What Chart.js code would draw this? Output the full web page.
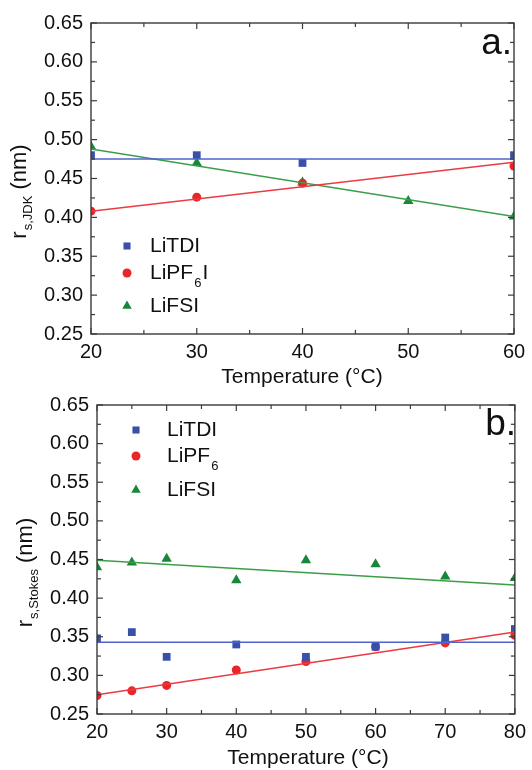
<!DOCTYPE html>
<html><head><meta charset="utf-8">
<script src="https://cdn.jsdelivr.net/npm/chart.js@4.4.0/dist/chart.umd.min.js"></script>
<style>
html,body{margin:0;padding:0;background:#fff;}
#wrap{position:relative;width:532px;height:770px;overflow:hidden;}
.c{position:absolute;left:0;width:532px;}
</style></head><body>
<div id="wrap">
<div class="c" style="top:0;height:400px"><canvas id="ca"></canvas></div>
<div class="c" style="top:385px;height:385px"><canvas id="cb"></canvas></div>
</div>
<script>
// ---------- Panel a data (r_s,JDK) ----------
const tempA_TDI = [20, 30, 40, 60];
const valA_TDI  = [0.480, 0.480, 0.470, 0.480];
const tempA_PF6 = [20, 30, 40, 60];
const valA_PF6  = [0.408, 0.426, 0.444, 0.466];
const tempA_FSI = [20, 30, 40, 50, 60];
const valA_FSI  = [0.491, 0.470, 0.445, 0.421, 0.401];
const fitA_x    = [20, 60];
const fitA_TDI  = [0.475, 0.475];
const fitA_PF6  = [0.408, 0.471];
const fitA_FSI  = [0.488, 0.401];

// ---------- Panel b data (r_s,Stokes) ----------
const tempB     = [20, 25, 30, 40, 50, 60, 70, 80];
const valB_TDI  = [0.348, 0.356, 0.324, 0.340, 0.324, 0.337, 0.349, 0.360];
const valB_PF6  = [0.274, 0.280, 0.287, 0.307, 0.318, 0.337, 0.342, 0.352];
const valB_FSI  = [0.440, 0.446, 0.451, 0.423, 0.449, 0.444, 0.428, 0.426];
const fitB_x    = [20, 80];
const fitB_TDI  = [0.343, 0.343];
const fitB_PF6  = [0.275, 0.356];
const fitB_FSI  = [0.449, 0.417];

const yTicksMin = 0.25, yTicksMax = 0.65, yStep = 0.05;
const legendNames = ['LiTDI', 'LiPF', 'LiFSI'];

const BLUE = '#3850a8', RED = '#e8262a', GREEN = '#17883a';
const BLUE_L = '#4f63cc', RED_L = '#ec3a40', GREEN_L = '#3a9e48';
const FONT = "'Liberation Sans', Arial, sans-serif";

const pts = (xs, ys) => xs.map((x, i) => ({x, y: ys[i]}));

function markerDs(data, color, style, r) {
  return {data, showLine: false, pointStyle: style, pointRadius: r, pointHoverRadius: r,
    backgroundColor: color, borderColor: color, borderWidth: 0};
}
function lineDs(data, color) {
  return {data, showLine: true, pointRadius: 0, borderColor: color, borderWidth: 1.5, fill: false};
}

function drawMarker(ctx, style, x, y, r, color) {
  ctx.fillStyle = color;
  ctx.beginPath();
  if (style === 'rect') {
    const s = Math.SQRT1_2 * r;
    ctx.rect(x - s, y - s, 2 * s, 2 * s);
  } else if (style === 'circle') {
    ctx.arc(x, y, r, 0, Math.PI * 2);
  } else {
    ctx.moveTo(x, y - r);
    ctx.lineTo(x + r * 0.866, y + r * 0.5);
    ctx.lineTo(x - r * 0.866, y + r * 0.5);
    ctx.closePath();
  }
  ctx.fill();
}

const decor = {
  id: 'decor',
  afterDatasetsDraw(chart, args, o) {
    const {ctx, chartArea: a, scales: {x, y}} = chart;
    ctx.save();
    ctx.strokeStyle = '#3a3a3a';
    ctx.lineWidth = 1.4;
    ctx.strokeRect(a.left, a.top, a.right - a.left, a.bottom - a.top);
    ctx.lineWidth = 1.2;
    const seg = (x1, y1, x2, y2) => { ctx.beginPath(); ctx.moveTo(x1, y1); ctx.lineTo(x2, y2); ctx.stroke(); };
    const isMaj = (v, m) => Math.abs(v / m - Math.round(v / m)) < 1e-6;
    for (let v = x.min; v <= x.max + 1e-9; v += o.xMinor) {
      const px = x.getPixelForValue(v);
      const L = isMaj(v, o.xMajor) ? 6 : 4;
      seg(px, a.bottom, px, a.bottom - L);
      seg(px, a.top, px, a.top + L);
    }
    for (let k = 0; k <= Math.round((y.max - y.min) / 0.025); k++) {
      const v = y.min + k * 0.025;
      const py = y.getPixelForValue(v);
      const L = (k % 2 === 0) ? 6 : 4;
      seg(a.left, py, a.left + L, py);
      seg(a.right, py, a.right - L, py);
    }
    // panel letter
    ctx.fillStyle = '#111';
    ctx.font = '37px ' + FONT;
    ctx.textAlign = 'right';
    ctx.textBaseline = 'alphabetic';
    ctx.fillText(o.letter, o.letterX, o.letterY);

    // x title
    ctx.font = '21px ' + FONT;
    ctx.textAlign = 'center';
    ctx.textBaseline = 'middle';
    ctx.fillText('Temperature (\u00B0C)', o.xtX, o.xtY);

    // y title (rotated)
    ctx.save();
    ctx.translate(o.ytX, o.ytY);
    ctx.rotate(-Math.PI / 2);
    ctx.textBaseline = 'middle';
    ctx.textAlign = 'left';
    ctx.font = '22px ' + FONT;
    const w1 = ctx.measureText('r').width;
    const w3 = ctx.measureText(' (nm)').width;
    ctx.font = '13px ' + FONT;
    const w2 = ctx.measureText(o.ysub).width;
    let sx = -(w1 + w2 + w3) / 2;
    ctx.font = '22px ' + FONT;
    ctx.fillText('r', sx, 0);
    ctx.font = '13px ' + FONT;
    ctx.fillText(o.ysub, sx + w1 + 1, 8);
    ctx.font = '22px ' + FONT;
    ctx.fillText(' (nm)', sx + w1 + w2 + 1, 0);
    ctx.restore();

    // legend
    const styles = ['rect', 'circle', 'triangle'];
    const cols = [BLUE, RED, GREEN];
    const radii = [5, 4.5, 5.5];
    ctx.textAlign = 'left';
    ctx.textBaseline = 'middle';
    for (let i = 0; i < 3; i++) {
      const ry = o.legRows[i];
      drawMarker(ctx, styles[i], o.legMX, ry, radii[i], cols[i]);
      ctx.fillStyle = '#111';
      ctx.font = '21px ' + FONT;
      ctx.fillText(legendNames[i], o.legTX, ry);
      if (i === 1) {
        const w = ctx.measureText(legendNames[i]).width;
        ctx.font = '13px ' + FONT;
        ctx.fillText('6', o.legTX + w + 1, ry + 10);
        if (o.pf6Suffix) {
          const w6 = ctx.measureText('6').width;
          ctx.font = '21px ' + FONT;
          ctx.fillText(o.pf6Suffix, o.legTX + w + w6 + 2, ry);
        }
      }
    }
    ctx.restore();
  }
};

function makeChart(id, ds, xmin, xmax, yW, xH, pad, opts) {
  return new Chart(document.getElementById(id), {
    type: 'scatter',
    data: {datasets: ds},
    plugins: [decor],
    options: {
      responsive: true, maintainAspectRatio: false, animation: false,
      layout: {padding: pad},
      plugins: {legend: {display: false}, tooltip: {enabled: false}, decor: opts},
      scales: {
        x: {type: 'linear', min: xmin, max: xmax,
          ticks: {stepSize: 10, padding: 6, color: '#111', font: {family: FONT, size: 20}},
          grid: {display: false, drawTicks: false}, border: {display: false},
          afterFit: s => { s.height = xH; }},
        y: {type: 'linear', min: yTicksMin, max: yTicksMax,
          ticks: {stepSize: yStep, padding: 8, color: '#111', font: {family: FONT, size: 20},
            callback: v => Number(v).toFixed(2)},
          grid: {display: false, drawTicks: false}, border: {display: false},
          afterFit: s => { s.width = yW; }}
      }
    }
  });
}

makeChart('ca', [
  lineDs(pts(fitA_x, fitA_TDI), BLUE_L),
  lineDs(pts(fitA_x, fitA_PF6), RED_L),
  lineDs(pts(fitA_x, fitA_FSI), GREEN_L),
  markerDs(pts(tempA_TDI, valA_TDI), BLUE, 'rect', 5.5),
  markerDs(pts(tempA_PF6, valA_PF6), RED, 'circle', 4.5),
  markerDs(pts(tempA_FSI, valA_FSI), GREEN, 'triangle', 6)
], 20, 60, 91, 66, {top: 23, right: 18, left: 0, bottom: 0}, {
  xMinor: 5, xMajor: 10, letter: 'a.', letterX: 512, letterY: 54,
  xtX: 302, xtY: 377, ytX: 20, ytY: 192, ysub: 's,JDK',
  legMX: 127, legTX: 150, legRows: [246, 273, 306], pf6Suffix: 'I'
});

makeChart('cb', [
  lineDs(pts(fitB_x, fitB_TDI), BLUE_L),
  lineDs(pts(fitB_x, fitB_PF6), RED_L),
  lineDs(pts(fitB_x, fitB_FSI), GREEN_L),
  markerDs(pts(tempB, valB_TDI), BLUE, 'rect', 5.5),
  markerDs(pts(tempB, valB_PF6), RED, 'circle', 4.5),
  markerDs(pts(tempB, valB_FSI), GREEN, 'triangle', 6)
], 20, 80, 97, 56, {top: 18, right: 12, left: 0, bottom: 0}, {
  xMinor: 5, xMajor: 10, letter: 'b.', letterX: 516, letterY: 50,
  xtX: 308, xtY: 373, ytX: 26, ytY: 188, ysub: 's,Stokes',
  legMX: 136, legTX: 167, legRows: [45, 71, 105], pf6Suffix: ''
});
</script>
</body></html>
